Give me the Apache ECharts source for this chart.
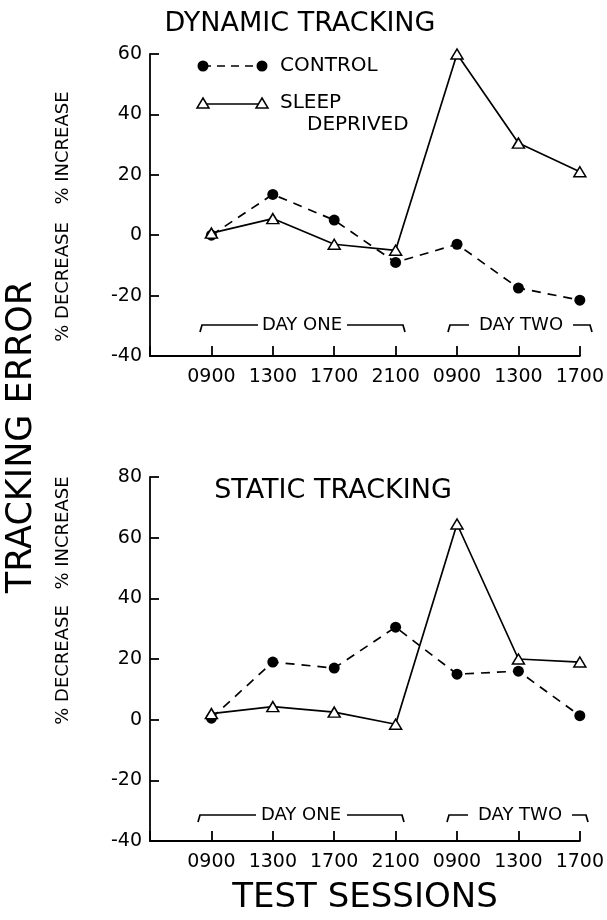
<!DOCTYPE html>
<html>
<head>
<meta charset="utf-8">
<script src="https://cdn.jsdelivr.net/npm/echarts@6/dist/echarts.min.js"></script>
<style>
html,body{margin:0;padding:0;background:#fff;}
#c{width:607px;height:920px;}
</style>
</head>
<body>
<div id="c"></div>
<script>
const categories = ['0900','1300','1700','2100','0900','1300','1700'];
const dynControl = [0, 13.5, 5, -9, -3, -17.5, -21.5];
const dynSleep   = [0.7, 5.5, -3, -5, 60, 30.5, 21];
const staControl = [0.5, 19, 17, 30.5, 15, 16, 1.3];
const staSleep   = [2, 4.3, 2.5, -1.5, 64.5, 20, 19];
const dynTicks = [-40, -20, 0, 20, 40, 60];
const staTicks = [-40, -20, 0, 20, 40, 60, 80];

const FONT = 'DejaVu Sans';
const toPts = arr => arr.map((v, i) => [i, v]);

function xAxis(gi) {
  return {
    type: 'value', gridIndex: gi, min: -1, max: 6, interval: 1,
    axisLine: {show: true, onZero: false, lineStyle: {color: '#000', width: 1.8}},
    axisTick: {show: true, inside: true, length: 10, lineStyle: {color: '#000', width: 1.8}},
    axisLabel: {
      color: '#000', fontFamily: FONT, fontSize: 19, margin: 12,
      formatter: v => (v >= 0 && v < categories.length) ? categories[v] : ''
    },
    splitLine: {show: false}
  };
}
function yAxis(gi, ticks) {
  return {
    type: 'value', gridIndex: gi, min: ticks[0], max: ticks[ticks.length - 1], interval: 20,
    axisLine: {show: true, onZero: false, lineStyle: {color: '#000', width: 1.8}},
    axisTick: {show: true, inside: true, length: 9, lineStyle: {color: '#000', width: 1.8}},
    axisLabel: {color: '#000', fontFamily: FONT, fontSize: 19, margin: 8},
    splitLine: {show: false}
  };
}
function ctrlSeries(gi, data) {
  return {
    type: 'line', xAxisIndex: gi, yAxisIndex: gi, data: toPts(data),
    symbol: 'circle', symbolSize: 11, showAllSymbol: true,
    itemStyle: {color: '#000'},
    lineStyle: {color: '#000', width: 1.7, type: [9, 7]},
    z: 3, silent: true, animation: false
  };
}
function sleepSeries(gi, data) {
  return {
    type: 'line', xAxisIndex: gi, yAxisIndex: gi, data: toPts(data),
    symbol: 'triangle', symbolSize: [12, 10], showAllSymbol: true,
    itemStyle: {color: '#fff', borderColor: '#000', borderWidth: 1.5},
    lineStyle: {color: '#000', width: 1.7, type: 'solid'},
    z: 4, silent: true, animation: false
  };
}
function txt(x, y, s, size, rot) {
  return {
    type: 'text', x: x, y: y, rotation: rot || 0,
    style: {text: s, fill: '#000', font: size + 'px "' + FONT + '"', align: 'center', verticalAlign: 'middle'}
  };
}
function line(points, dashed) {
  return {
    type: 'polyline', shape: {points: points},
    style: {stroke: '#000', lineWidth: 1.7, fill: null, lineDash: dashed ? [8, 6] : null}
  };
}
function bracket(y, x1, t1, t2, x2, label, tx) {
  return [
    line([[x1, y + 7], [x1 + 2, y], [t1, y]]),
    line([[t2, y], [x2 - 2, y], [x2, y + 7]]),
    txt(tx, y, label, 18)
  ];
}

const graphics = [
  txt(300, 24, 'DYNAMIC TRACKING', 27),
  txt(333, 491, 'STATIC TRACKING', 27),
  txt(365, 898, 'TEST SESSIONS', 34),
  txt(22, 437, 'TRACKING ERROR', 35, Math.PI / 2),
  txt(63, 148, '% INCREASE', 18, Math.PI / 2),
  txt(63, 282, '% DECREASE', 18, Math.PI / 2),
  txt(63, 533, '% INCREASE', 18, Math.PI / 2),
  txt(63, 665, '% DECREASE', 18, Math.PI / 2),
  // legend
  line([[203, 66], [262, 66]], true),
  {type: 'circle', shape: {cx: 203, cy: 66, r: 5.5}, style: {fill: '#000'}},
  {type: 'circle', shape: {cx: 262, cy: 66, r: 5.5}, style: {fill: '#000'}},
  line([[203, 104], [262, 104]], false),
  {type: 'polygon', shape: {points: [[203, 98], [209, 108], [197, 108]]}, style: {fill: '#fff', stroke: '#000', lineWidth: 1.5}},
  {type: 'polygon', shape: {points: [[262, 98], [268, 108], [256, 108]]}, style: {fill: '#fff', stroke: '#000', lineWidth: 1.5}},
  {type: 'text', x: 280, y: 66, style: {text: 'CONTROL', fill: '#000', font: '20px "' + FONT + '"', align: 'left', verticalAlign: 'middle'}},
  {type: 'text', x: 280, y: 103, style: {text: 'SLEEP', fill: '#000', font: '20px "' + FONT + '"', align: 'left', verticalAlign: 'middle'}},
  {type: 'text', x: 307, y: 125, style: {text: 'DEPRIVED', fill: '#000', font: '20px "' + FONT + '"', align: 'left', verticalAlign: 'middle'}}
].concat(
  bracket(325, 200, 258, 347, 405, 'DAY ONE', 302),
  bracket(325, 448, 469, 573, 592, 'DAY TWO', 521),
  bracket(815, 198, 256, 347, 404, 'DAY ONE', 301),
  bracket(815, 447, 468, 572, 588, 'DAY TWO', 520)
);

const chart = echarts.init(document.getElementById('c'), null, {renderer: 'canvas'});
chart.setOption({
  backgroundColor: '#fff',
  animation: false,
  grid: [
    {left: 150, right: 22, top: 54, height: 302},
    {left: 150, right: 22, top: 477, height: 364}
  ],
  xAxis: [xAxis(0), xAxis(1)],
  yAxis: [yAxis(0, dynTicks), yAxis(1, staTicks)],
  series: [
    ctrlSeries(0, dynControl), sleepSeries(0, dynSleep),
    ctrlSeries(1, staControl), sleepSeries(1, staSleep)
  ],
  graphic: graphics
});
</script>
</body>
</html>
